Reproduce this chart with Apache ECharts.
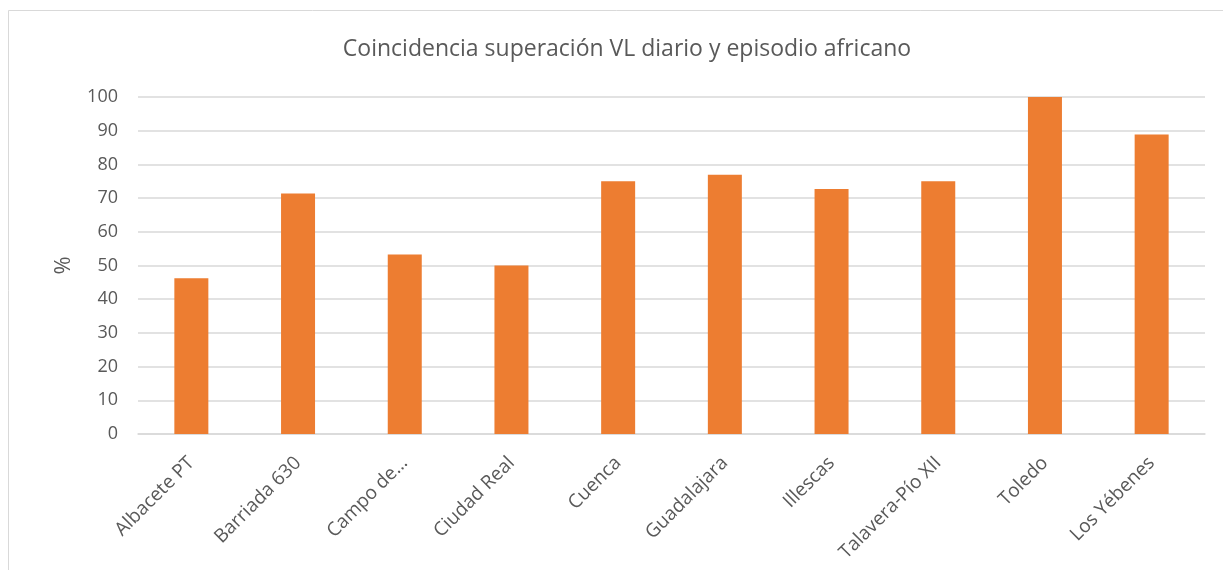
<!DOCTYPE html>
<html>
<head>
<meta charset="utf-8">
<script src="https://cdn.jsdelivr.net/npm/echarts@6/dist/echarts.min.js"></script>
<style>
html,body{margin:0;padding:0;background:#fff;}
#c{width:1223px;height:570px;}
</style>
</head>
<body>
<div id="c"></div>
<script>
const titleText = 'Coincidencia superación VL diario y episodio africano';
const categories = ['Albacete PT','Barriada 630','Campo de…','Ciudad Real','Cuenca','Guadalajara','Illescas','Talavera-Pío XII','Toledo','Los Yébenes'];
const values = [46.2, 71.4, 53.3, 50, 75, 76.9, 72.7, 75, 100, 88.9];
const yTicks = [0,10,20,30,40,50,60,70,80,90,100];
const yName = '%';

const chart = echarts.init(document.getElementById('c'), null, {renderer:'canvas'});
const font = '"Open Sans", "Noto Sans", sans-serif';
chart.setOption({
  backgroundColor:'#ffffff',
  animation:false,
  graphic:[{
    type:'rect',
    shape:{x:8.5,y:10.5,width:1240,height:600},
    style:{fill:'none',stroke:'#d9d9d9',lineWidth:1},
    silent:true
  }],
  title:{
    text:titleText,
    left:622,
    textAlign:'center',
    top:33,
    textStyle:{fontFamily:font,fontSize:23,fontWeight:'normal',color:'#595959'}
  },
  grid:{left:138,right:18,top:97,bottom:136,containLabel:false},
  xAxis:{
    type:'category',
    data:categories,
    axisLine:{show:true,lineStyle:{color:'#d9d9d9',width:1.5}},
    axisTick:{show:false},
    axisLabel:{rotate:45,interval:0,margin:26,fontFamily:font,fontSize:19,color:'#595959'}
  },
  yAxis:{
    type:'value',
    min:yTicks[0],
    max:yTicks[yTicks.length-1],
    interval:10,
    name:yName,
    nameLocation:'middle',
    nameGap:63,
    nameRotate:90,
    nameTextStyle:{fontFamily:font,fontSize:22,color:'#595959'},
    axisLine:{show:false},
    axisTick:{show:false},
    splitLine:{show:true,lineStyle:{color:'#d9d9d9',width:1.5}},
    axisLabel:{margin:20,fontFamily:font,fontSize:18,color:'#595959'}
  },
  series:[{
    type:'bar',
    data:values,
    barWidth:34,
    itemStyle:{color:'#ED7D31'}
  }]
});
</script>
</body>
</html>
